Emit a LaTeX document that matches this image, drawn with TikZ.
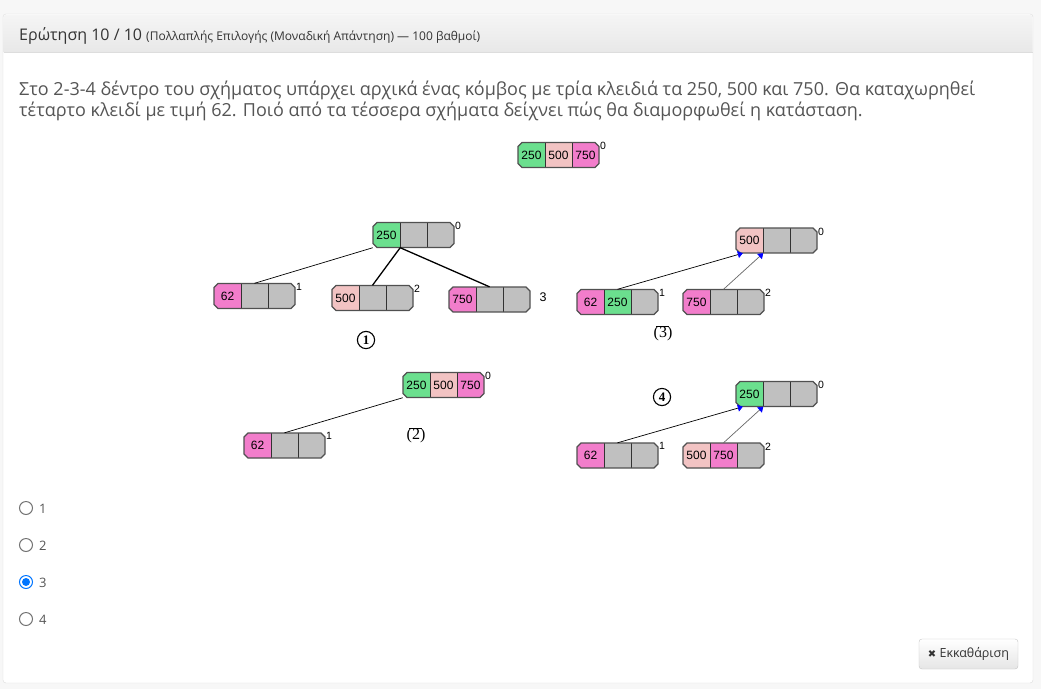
\documentclass[tikz,border=0pt]{standalone}
\usepackage{fontspec}
\setmainfont{Open Sans}
\newfontfamily\cellfont{Liberation Sans}
\newfontfamily\markfont{Liberation Serif}
\newfontfamily\symfont{DejaVu Sans}
\usetikzlibrary{arrows.meta,positioning}

\definecolor{pagebg}{HTML}{F7F7F7}
\definecolor{panelline}{HTML}{DDDDDD}
\definecolor{headtop}{HTML}{F5F5F5}
\definecolor{headbot}{HTML}{E8E8E8}
\definecolor{textdark}{HTML}{333333}
\definecolor{textmid}{HTML}{555555}
\definecolor{keygreen}{HTML}{6BDF8E}
\definecolor{keyrose}{HTML}{F2C3C3}
\definecolor{keypink}{HTML}{F27DCB}
\definecolor{keygray}{HTML}{C0C0C0}
\definecolor{boxline}{HTML}{505050}
\definecolor{radioblue}{HTML}{0075FF}

% one node of the 2-3-4 tree: name, west point, three fills, three keys, number
\newcommand{\keynode}[9]{%
  \begin{scope}[shift={(#2)}]
    \fill[#3] (4,-12.5) -- (27,-12.5) -- (27,12.5) -- (4,12.5) -- (0,8.5) -- (0,-8.5) -- cycle;
    \fill[#4] (27,-12.5) rectangle (54,12.5);
    \fill[#5] (54,-12.5) -- (77,-12.5) -- (81,-8.5) -- (81,8.5) -- (77,12.5) -- (54,12.5) -- cycle;
    \node[keycell] (#1-a) at (13.5,0) {#6};
    \node[keycell] (#1-b) at (40.5,0) {#7};
    \node[keycell] (#1-c) at (67.5,0) {#8};
    \draw[divider] (27,-12.5) -- (27,12.5) (54,-12.5) -- (54,12.5);
    \draw[outline] (4,-12.5) -- (77,-12.5) -- (81,-8.5) -- (81,8.5) -- (77,12.5) -- (4,12.5) -- (0,8.5) -- (0,-8.5) -- cycle;
    \node[level] (#1-n) at (82,-13) {#9};
  \end{scope}}

\begin{document}
\begin{tikzpicture}[x=1pt,y=-1pt,
    keycell/.style={minimum width=27pt, minimum height=25pt, inner sep=0pt, font=\cellfont\fontsize{12}{12}\selectfont},
    divider/.style={draw=black!80, line width=0.8pt},
    outline/.style={draw=boxline, line width=1.3pt},
    level/.style={anchor=north west, inner sep=0pt, font=\cellfont\fontsize{10.5}{10.5}\selectfont},
    edge/.style={draw=black, line width=0.7pt},
    boldedge/.style={draw=black, line width=1.3pt},
    tipedge/.style={{Triangle[length=5pt,width=7pt,color=blue]}-, line width=0.7pt},
    circlemark/.style={circle, draw, line width=1.1pt, inner sep=2.3pt, font=\markfont\bfseries\fontsize{13}{13}\selectfont},
    parenmark/.style={inner sep=0pt, font=\markfont\fontsize{16}{16}\selectfont},
    radio/.style={circle, draw=black!55, line width=1pt, minimum size=13pt, inner sep=0pt},
    choice/.style={anchor=base west, inner sep=0pt, text=textmid, font=\fontsize{13}{15}\selectfont},
    plain/.style={anchor=base west, inner sep=0pt}]
  \useasboundingbox (0,0) rectangle (1041,689);
  \fill[pagebg] (0,0) rectangle (1041,689);

  % panel and header
  \draw[panelline, fill=white, rounded corners=3] (3,14) rectangle (1033,683);
  \shade[top color=headtop, bottom color=headbot, rounded corners=3] (3.5,52) -- (3.5,14.5) -- (1032.5,14.5) [sharp corners] -- (1032.5,52) -- cycle;
  \draw[panelline] (3.5,52) -- (1032.5,52);
  \node[plain, text=textdark, font=\fontsize{16}{19}\selectfont] (title) at (19,40)
    {Ερώτηση 10 / 10 {\fontsize{12}{14}\selectfont(Πολλαπλής Επιλογής (Μοναδική Απάντηση) — 100 βαθμοί)}};

  % question text
  \node[plain, text=textmid, font=\fontsize{18}{21}\selectfont] (line1) at (19,95)
    {Στο 2-3-4 δέντρο του σχήματος υπάρχει αρχικά ένας κόμβος με τρία κλειδιά τα 250, 500 και 750. Θα καταχωρηθεί};
  \node[plain, text=textmid, font=\fontsize{18}{21}\selectfont] (line2) at (19,116)
    {τέταρτο κλειδί με τιμή 62. Ποιό από τα τέσσερα σχήματα δείχνει πώς θα διαμορφωθεί η κατάσταση.};

  % starting node
  \keynode{start}{518,155}{keygreen}{keyrose}{keypink}{250}{500}{750}{0}

  % figure 1
  \keynode{ar}{373,235}{keygreen}{keygray}{keygray}{250}{}{}{0}
  \keynode{aa}{214,296}{keypink}{keygray}{keygray}{62}{}{}{1}
  \keynode{ab}{332,298}{keyrose}{keygray}{keygray}{500}{}{}{2}
  \keynode{ac}{449,299.5}{keypink}{keygray}{keygray}{750}{}{}{}
  \node[font=\cellfont\fontsize{12.5}{12.5}\selectfont, inner sep=0pt] (ac-n) at (543,297) {3};
  \draw[edge] (ar-a.south west) -- (aa-b.north);
  \draw[boldedge] (ar-a.south east) -- (ab-b.north);
  \draw[boldedge] (ar-a.south east) -- (ac-b.north);
  \node[circlemark] (mark1) at (366,340) {1};

  % figure 3
  \keynode{cr}{736,240.5}{keyrose}{keygray}{keygray}{500}{}{}{0}
  \keynode{ca}{577,302}{keypink}{keygreen}{keygray}{62}{250}{}{1}
  \keynode{cb}{683,302}{keypink}{keygray}{keygray}{750}{}{}{2}
  \draw[tipedge, draw=black] ([xshift=7pt]cr-a.south west) -- (ca-b.north);
  \draw[tipedge, draw=black!60] (cr-a.south east) -- (cb-b.north);
  \node[parenmark] (mark3) at (663,334) {(3)};
  \draw[line width=0.8pt] ([xshift=3pt,yshift=0.5pt]mark3.north west) -- ([xshift=-4pt,yshift=0.5pt]mark3.north east);

  % figure 2
  \keynode{br}{403,385}{keygreen}{keyrose}{keypink}{250}{500}{750}{0}
  \keynode{ba}{244,445.5}{keypink}{keygray}{keygray}{62}{}{}{1}
  \draw[edge] (br-a.south west) -- (ba-b.north);
  \node[parenmark] (mark2) at (416,436) {(2)};
  \draw[line width=0.8pt] ([xshift=3pt,yshift=0.5pt]mark2.north west) -- ([xshift=-4pt,yshift=0.5pt]mark2.north east);

  % figure 4
  \keynode{dr}{736,394}{keygreen}{keygray}{keygray}{250}{}{}{0}
  \keynode{da}{577,455.5}{keypink}{keygray}{keygray}{62}{}{}{1}
  \keynode{db}{683,455.5}{keyrose}{keypink}{keygray}{500}{750}{}{2}
  \draw[tipedge, draw=black] ([xshift=7pt]dr-a.south west) -- (da-b.north);
  \draw[tipedge, draw=black!60] (dr-a.south east) -- (db-b.north);
  \node[circlemark] (mark4) at (662,397) {4};

  % answers
  \node[radio] (r1) at (26,508) {};
  \node[radio] (r2) at (26,545) {};
  \node[radio, draw=radioblue] (r3) at (26,582) {};
  \fill[radioblue] (r3.center) circle (4);
  \node[radio] (r4) at (26,619) {};
  \node[choice] (c1) at (39,513) {1};
  \node[choice] (c2) at (39,550) {2};
  \node[choice] (c3) at (39,587) {3};
  \node[choice] (c4) at (39,624) {4};

  % clear button
  \shade[top color=white, bottom color=black!10, draw=black!22, rounded corners=3] (919,639) rectangle (1018,669);
  \node[inner sep=0pt, text=textdark, font=\fontsize{12.5}{15}\selectfont] (clear) at (968.5,654)
    {{\symfont\fontsize{10}{12}\selectfont ✖} Εκκαθάριση};
\end{tikzpicture}
\end{document}
